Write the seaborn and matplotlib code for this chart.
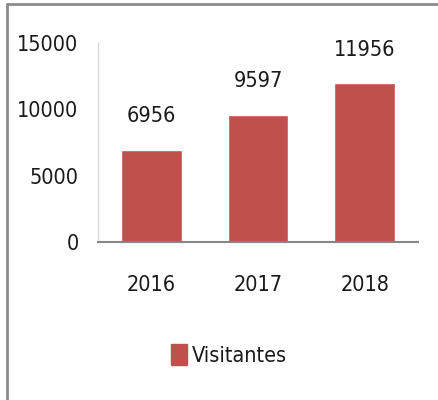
import matplotlib
matplotlib.use("Agg")
import matplotlib.pyplot as plt
import seaborn as sns
import pandas as pd
from matplotlib.patches import Patch

years = ["2016", "2017", "2018"]
visitors = [6956, 9597, 11956]
yticks = [0, 5000, 10000, 15000]
series_name = "Visitantes"

bar_color = "#c0504d"

sns.set_style("white")
plt.rcParams["font.family"] = ["DejaVu Sans"]
plt.rcParams["font.stretch"] = "condensed"
plt.rcParams["text.color"] = "#1a1a1a"
plt.rcParams["xtick.color"] = "#1a1a1a"
plt.rcParams["ytick.color"] = "#1a1a1a"

df = pd.DataFrame({"year": years, "visitors": visitors})

fig = plt.figure(figsize=(4.38, 4.00), dpi=100)
ax = fig.add_axes([98 / 438, 1 - 242 / 400, 320 / 438, 199 / 400])

sns.barplot(data=df, x="year", y="visitors", color=bar_color, width=0.57,
            saturation=1, ax=ax)

fs = 15.5
ax.set_ylim(0, 15000)
ax.set_yticks(yticks)
ax.set_yticklabels([str(t) for t in yticks], fontsize=fs)
ax.set_xlim(-0.5, 2.5)
ax.tick_params(axis="x", labelsize=fs, length=0, pad=24)
ax.tick_params(axis="y", length=0, pad=14)
ax.set_xlabel("")
ax.set_ylabel("")

for c in ax.containers:
    ax.bar_label(c, fmt="%d", fontsize=fs, padding=17)

for s in ["top", "right"]:
    ax.spines[s].set_visible(False)
ax.spines["left"].set_color("#d9d9d9")
ax.spines["left"].set_linewidth(1)
ax.spines["bottom"].set_color("#868686")
ax.spines["bottom"].set_linewidth(1.5)

fig.legend(handles=[Patch(color=bar_color, label=series_name)],
           loc="center", bbox_to_anchor=(229 / 438, 1 - 355 / 400),
           frameon=False, fontsize=fs, handlelength=0.75, handleheight=1.1,
           handletextpad=0.2)

# outer chart border (top and left visible)
fig.add_artist(plt.Line2D([7 / 438, 1], [1 - 4 / 400, 1 - 4 / 400],
                          transform=fig.transFigure, color="#8c8c8c", lw=2))
fig.add_artist(plt.Line2D([7 / 438, 7 / 438], [0, 1 - 4 / 400],
                          transform=fig.transFigure, color="#8c8c8c", lw=2))

fig.savefig("out.png", dpi=100)
